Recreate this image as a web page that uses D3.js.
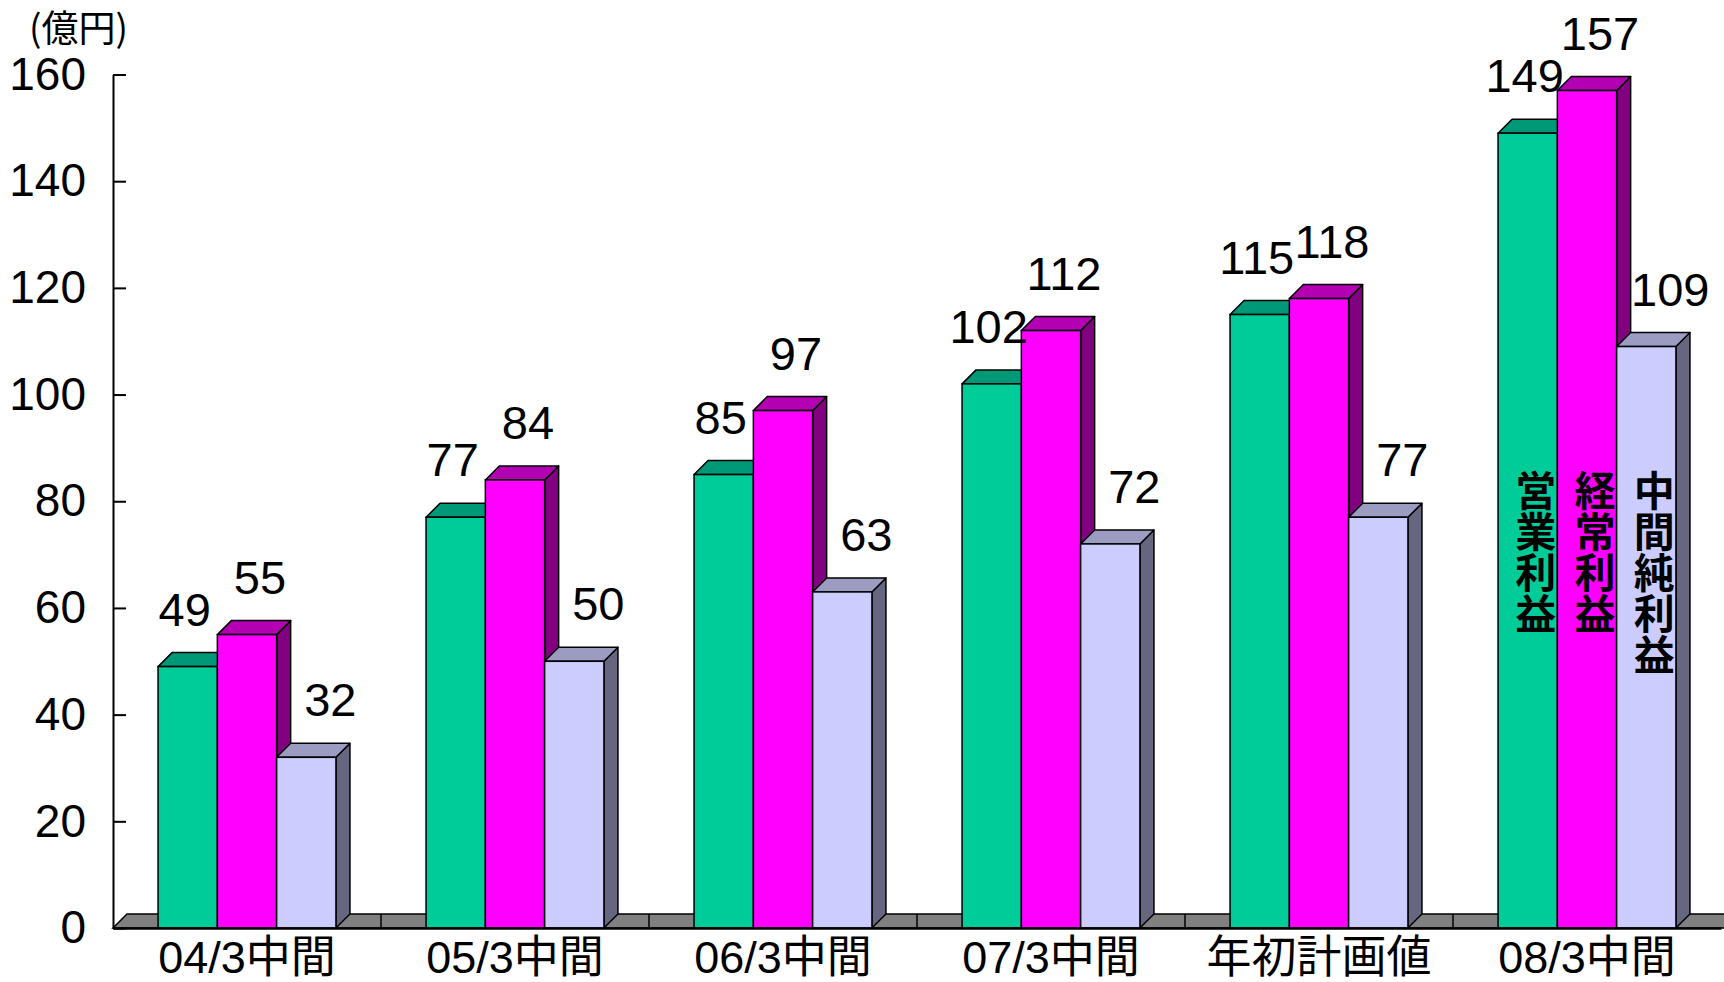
<!DOCTYPE html>
<html>
<head>
<meta charset="utf-8">
<script src="https://cdn.jsdelivr.net/npm/d3@7"></script>
<style>
  html, body { margin: 0; padding: 0; background: #fff; }
  svg { display: block; }
  text { font-family: "Liberation Sans", Arial, "Noto Sans CJK JP", sans-serif; fill: #000; }
</style>
</head>
<body>
<svg id="chart" width="1724" height="982"></svg>
<script>
// ---- data ----
const categories = ["04/3中間", "05/3中間", "06/3中間", "07/3中間", "年初計画値", "08/3中間"];
const operatingProfit = [49, 77, 85, 102, 115, 149];   // 営業利益
const ordinaryProfit  = [55, 84, 97, 112, 118, 157];   // 経常利益
const netProfit       = [32, 50, 63, 72, 77, 109];     // 中間純利益
const seriesNames = ["営業利益", "経常利益", "中間純利益"];
const yTickValues = [0, 20, 40, 60, 80, 100, 120, 140, 160];
const unitLabel = "(億円)";

(function () {
// ---- styles ----
const seriesStyle = [
  { front: "#00CC99", top: "#009977", side: "#006B55", labelDx: -3 },
  { front: "#FF00FF", top: "#B200B2", side: "#800080", labelDx: 13 },
  { front: "#CCCCFF", top: "#9C9CC2", side: "#666680", labelDx: 24 }
];
const D = 14; // 3D depth offset

const svg = d3.select("#chart");
const plotLeft = 113, plotRight = 1721, plotBottom = 928, plotTop = 74.5;

const x = d3.scaleBand().domain(categories).range([plotLeft, plotRight]).paddingInner(0).paddingOuter(0);
const xi = d3.scaleBand().domain(d3.range(3)).range([0, x.bandwidth()]).paddingInner(0).paddingOuter(0.76);
const y = d3.scaleLinear().domain([0, 160]).range([plotBottom, plotTop]);

const series = [operatingProfit, ordinaryProfit, netProfit];
const pts = arr => arr.map(p => p.join(",")).join(" ");

// floor
svg.append("polygon")
  .attr("points", pts([[plotLeft, y(0)], [plotRight + D + 20, y(0)], [plotRight + D + 20, y(0) - D], [plotLeft + D, y(0) - D]]))
  .attr("fill", "#808080").attr("stroke", "#000").attr("stroke-width", 1.5);

// category tick marks on floor (at group boundaries)
svg.append("g").selectAll("line")
  .data(categories.slice(1))
  .join("line")
  .attr("x1", d => x(d)).attr("x2", d => x(d))
  .attr("y1", y(0)).attr("y2", y(0) - D)
  .attr("stroke", "#000").attr("stroke-width", 1.5);

// bars
const barsG = svg.append("g");
categories.forEach((cat, ci) => {
  series.forEach((vals, si) => {
    const st = seriesStyle[si];
    const x0 = x(cat) + xi(si), w = xi.bandwidth();
    const yT = y(vals[ci]), y0 = y(0);
    const g = barsG.append("g");
    g.append("polygon")
      .attr("points", pts([[x0 + w, yT], [x0 + w + D, yT - D], [x0 + w + D, y0 - D], [x0 + w, y0]]))
      .attr("fill", st.side).attr("stroke", "#000").attr("stroke-width", 1.5).attr("stroke-linejoin", "round");
    g.append("polygon")
      .attr("points", pts([[x0, yT], [x0 + w, yT], [x0 + w + D, yT - D], [x0 + D, yT - D]]))
      .attr("fill", st.top).attr("stroke", "#000").attr("stroke-width", 1.5).attr("stroke-linejoin", "round");
    g.append("rect")
      .attr("x", x0).attr("y", yT).attr("width", w).attr("height", y0 - yT)
      .attr("fill", st.front).attr("stroke", "#000").attr("stroke-width", 1.5);
  });
});

// value labels
const labelsG = svg.append("g");
categories.forEach((cat, ci) => {
  series.forEach((vals, si) => {
    const x0 = x(cat) + xi(si), w = xi.bandwidth();
    labelsG.append("text")
      .attr("x", x0 + w / 2 + seriesStyle[si].labelDx)
      .attr("y", y(vals[ci]) - 41)
      .attr("text-anchor", "middle")
      .style("font-size", "47px")
      .text(vals[ci]);
  });
});

// y axis
const yAxis = d3.axisLeft(y).tickValues(yTickValues).tickSizeInner(-13).tickSizeOuter(0).tickPadding(27);
const yg = svg.append("g").attr("transform", `translate(${plotLeft},0)`).call(yAxis);
yg.select(".domain").attr("stroke", "#000").attr("stroke-width", 2);
yg.selectAll(".tick line").attr("stroke", "#000").attr("stroke-width", 2);
yg.selectAll(".tick text").style("font-size", "46px").style("font-family", "'Liberation Sans', Arial, sans-serif").attr("fill", "#000");

// x axis
const xAxis = d3.axisBottom(x).tickSize(0).tickPadding(13);
const xg = svg.append("g").attr("transform", `translate(0,${plotBottom})`).call(xAxis);
xg.select(".domain").attr("stroke", "#000").attr("stroke-width", 2.5);
xg.selectAll(".tick text").style("font-size", "45px").style("font-family", "'Liberation Sans', Arial, 'Noto Sans CJK JP', sans-serif").attr("fill", "#000");

// unit label
svg.append("text").attr("x", 29).attr("y", 42)
  .style("font-size", "37px").style("font-family", "'Noto Sans CJK JP', sans-serif")
  .text(unitLabel);

// vertical series names inside last group's bars
const lastCat = categories[categories.length - 1];
const nameG = svg.append("g");
seriesNames.forEach((name, si) => {
  const cx = x(lastCat) + xi(si) + xi.bandwidth() / 2 + 8;
  nameG.append("text")
    .attr("x", cx).attr("y", 470)
    .attr("text-anchor", "start")
    .style("writing-mode", "vertical-rl")
    .style("text-orientation", "upright")
    .style("font-size", "41px").style("font-family", "'Noto Sans CJK JP', sans-serif")
    .style("font-weight", "bold")
    .text(name);
});
})();
</script>
</body>
</html>
